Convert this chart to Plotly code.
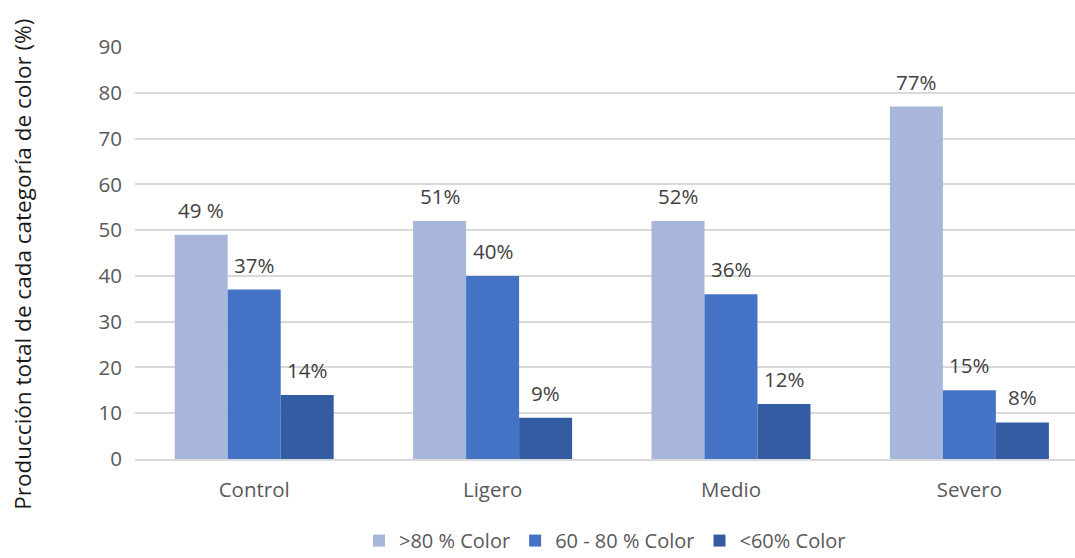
import plotly.graph_objects as go

categories = ["Control", "Ligero", "Medio", "Severo"]
series_names = [">80 % Color", "60 - 80 % Color", "<60% Color"]
high = [49, 52, 52, 77]
mid = [37, 40, 36, 15]
low = [14, 9, 12, 8]
high_labels = ["49 %", "51%", "52%", "77%"]
mid_labels = ["37%", "40%", "36%", "15%"]
low_labels = ["14%", "9%", "12%", "8%"]
y_ticks = [0, 10, 20, 30, 40, 50, 60, 70, 80, 90]

colors = ["#A9B6DB", "#4472C4", "#345CA2"]
values = [high, mid, low]
labels = [high_labels, mid_labels, low_labels]

FONT = "'Open Sans', sans-serif"

fig = go.Figure()
for name, vals, col in zip(series_names, values, colors):
    fig.add_trace(go.Bar(
        x=categories, y=vals, name=name,
        marker=dict(color=col, line=dict(width=0)),
    ))

annotations = []
for i, (vals, labs) in enumerate(zip(values, labels)):
    for cat, v, t in zip(categories, vals, labs):
        annotations.append(dict(
            x=cat, y=v, xref="x", yref="y", text=t, showarrow=False,
            xanchor="center", yanchor="bottom", xshift=(i - 1) * 53, yshift=9,
            font=dict(family=FONT, size=20.5, color="#404040"),
        ))

annotations.append(dict(
    x=-0.12, y=0.472, xref="paper", yref="paper",
    text="Producción total de cada categoría de color (%)",
    textangle=-90, showarrow=False, xanchor="center", yanchor="middle",
    font=dict(family=FONT, size=22.5, color="#1a1a1a"),
))

fig.update_layout(
    width=1075, height=558,
    margin=dict(l=135, r=0, t=47, b=99, autoexpand=False),
    paper_bgcolor="white", plot_bgcolor="white",
    barmode="group", bargap=0.333, bargroupgap=0,
    font=dict(family=FONT, size=20.5, color="#595959"),
    annotations=annotations,
    legend=dict(
        orientation="h", x=0.5, y=-0.198, xanchor="center", yanchor="middle",
        font=dict(family=FONT, size=20, color="#595959"),
        itemwidth=30, tracegroupgap=0,
    ),
    xaxis=dict(
        range=[-0.5, 3.443], showgrid=False, showline=True, linecolor="#D9D9D9",
        linewidth=1.5, ticks="", tickfont=dict(family=FONT, size=20.5, color="#595959"),
        ticklabelstandoff=12,
    ),
    yaxis=dict(
        range=[0, 90], tickvals=y_ticks, showgrid=True, gridcolor="#D9D9D9",
        gridwidth=1.5, zeroline=False, showline=False, ticks="",
        tickfont=dict(family=FONT, size=20.5, color="#595959"),
        ticklabelstandoff=12,
    ),
)

fig.write_html("out.html")
